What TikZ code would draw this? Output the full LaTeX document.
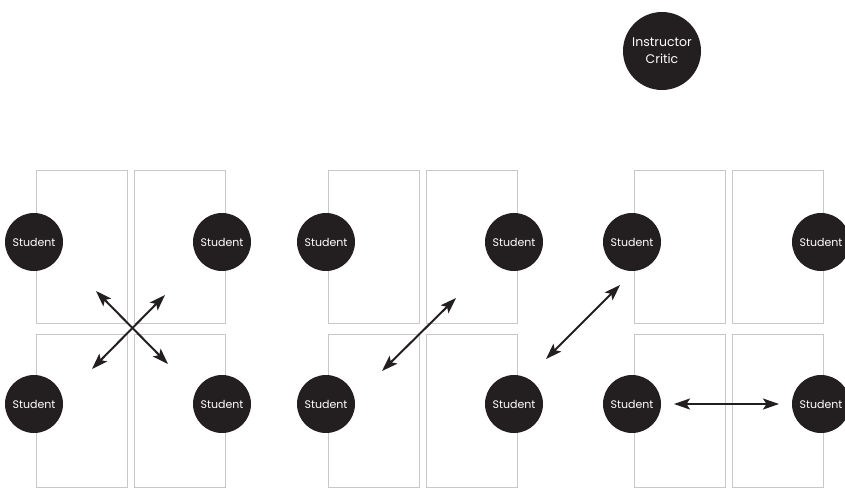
\documentclass[tikz,border=0pt]{standalone}
\usepackage{fontspec}
\setmainfont{Poppins}
\usetikzlibrary{arrows.meta}
\definecolor{deskgrey}{RGB}{200,200,200}
\definecolor{seatblack}{RGB}{35,31,32}
\tikzset{desk/.style={draw=deskgrey, line width=1pt, minimum width=91pt, minimum height=153pt, inner sep=0pt}}
\tikzset{student/.style={circle, fill=seatblack, minimum size=58pt, inner sep=0pt, text=white, font=\fontsize{11}{13}\selectfont}}
\tikzset{critic/.style={circle, fill=seatblack, minimum size=78pt, inner sep=0pt, text=white, align=center, font=\fontsize{12.5}{17}\selectfont}}
\tikzset{talk/.style={line width=2pt, color=seatblack, {Stealth[length=16pt,width=11pt,inset=3.5pt]}-{Stealth[length=16pt,width=11pt,inset=3.5pt]}}}

\begin{document}
\begin{tikzpicture}[x=1pt, y=-1pt]
        \useasboundingbox (0,0) rectangle (845,488);

        % desks
        \node[desk] (D1) at (81.5, 246.5) {};
        \node[desk] (D2) at (179.5, 246.5) {};
        \node[desk] (D3) at (81.5, 410.5) {};
        \node[desk] (D4) at (179.5, 410.5) {};
        \node[desk] (D5) at (373.5, 246.5) {};
        \node[desk] (D6) at (471.5, 246.5) {};
        \node[desk] (D7) at (373.5, 410.5) {};
        \node[desk] (D8) at (471.5, 410.5) {};
        \node[desk] (D9) at (680, 246.5) {};
        \node[desk] (D10) at (778, 246.5) {};
        \node[desk] (D11) at (680, 410.5) {};
        \node[desk] (D12) at (778, 410.5) {};

        % students
        \node[student] (S1) at (34, 242) {Student};
        \node[student] (S2) at (222, 242) {Student};
        \node[student] (S3) at (34, 404) {Student};
        \node[student] (S4) at (222, 404) {Student};
        \node[student] (S5) at (326, 242) {Student};
        \node[student] (S6) at (514, 242) {Student};
        \node[student] (S7) at (326, 404) {Student};
        \node[student] (S8) at (514, 404) {Student};
        \node[student] (S9) at (632, 242) {Student};
        \node[student] (S10) at (821, 242) {Student};
        \node[student] (S11) at (632, 404) {Student};
        \node[student] (S12) at (821, 404) {Student};

        \node[critic] (IC) at (662, 51) {Instructor\\Critic};

        % arrow ends
        \coordinate (A1) at (96, 291);
        \coordinate (A2) at (168, 364);
        \coordinate (A3) at (165, 295);
        \coordinate (A4) at (92, 369);
        \coordinate (A5) at (456, 298);
        \coordinate (A6) at (382, 371);
        \coordinate (A7) at (546, 359);
        \coordinate (A8) at (620, 285);
        \coordinate (A9) at (674, 404);
        \coordinate (A10) at (779, 404);

        \draw [talk] (A1) -- (A2);
        \draw [talk] (A3) -- (A4);
        \draw [talk] (A5) -- (A6);
        \draw [talk] (A7) -- (A8);
        \draw [talk] (A9) -- (A10);
    \end{tikzpicture}
\end{document}
